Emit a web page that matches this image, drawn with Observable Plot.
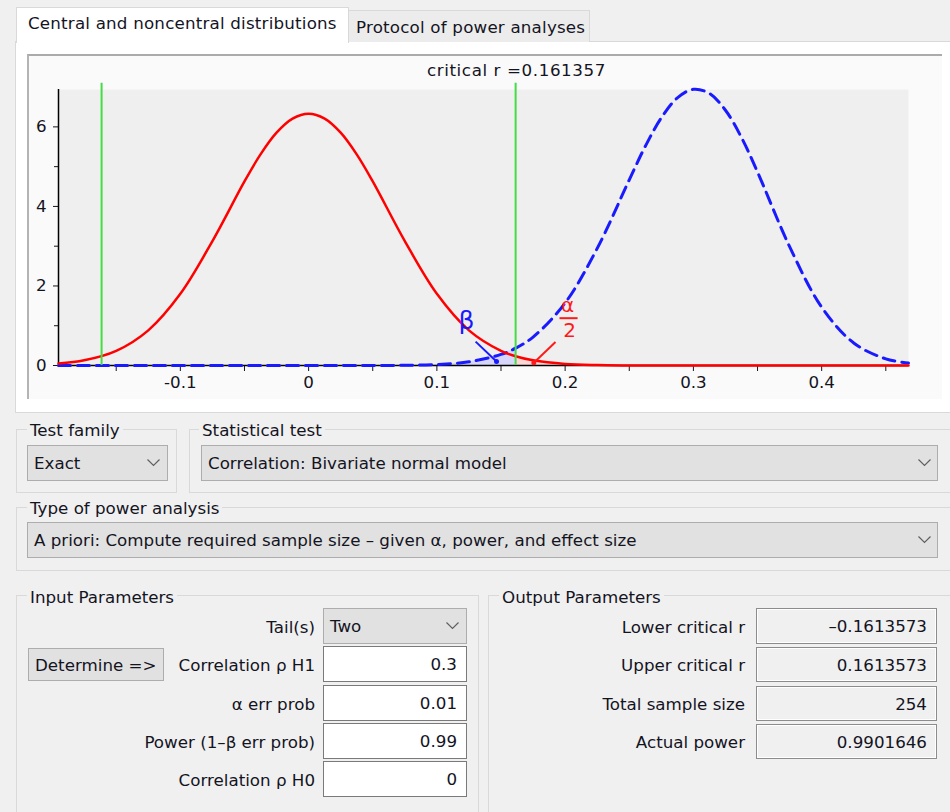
<!DOCTYPE html>
<html>
<head>
<meta charset="utf-8">
<script src="https://cdn.jsdelivr.net/npm/d3@7"></script>
<script src="https://cdn.jsdelivr.net/npm/@observablehq/plot@0.6"></script>
<style>
  html, body { margin: 0; padding: 0; }
  body { width: 950px; height: 812px; overflow: hidden; background: #f0f0f0; position: relative;
         font-family: "DejaVu Sans", sans-serif; font-size: 16.7px; color: #14141f; }
  .abs { position: absolute; box-sizing: border-box; }
  .group { position: absolute; box-sizing: border-box; border: 1px solid #d9d9d9; }
  .gtitle { position: absolute; background: #f0f0f0; padding: 0 3px; line-height: 20px; white-space: nowrap; }
  .combo { position: absolute; box-sizing: border-box; background: #e1e1e1; border: 1px solid #adadad;
           display: flex; align-items: center; padding-left: 6px; white-space: nowrap; }
  .combo svg { position: absolute; top: 50%; margin-top: -4px; }
  .field { position: absolute; box-sizing: border-box; background: #fff; border: 1px solid #7a7a7a;
           display: flex; align-items: center; justify-content: flex-end; padding-right: 9px; }
  .outf { position: absolute; box-sizing: border-box; background: #f0f0f0; border: 1px solid #8c8c8c;
          box-shadow: inset 0 0 0 1px #ffffff; display: flex; align-items: center; justify-content: flex-end; padding-right: 9px; }
  .lbl { position: absolute; text-align: right; white-space: nowrap; line-height: 20px; }
  .btn { position: absolute; box-sizing: border-box; background: #e1e1e1; border: 1px solid #adadad;
         display: flex; align-items: center; padding-left: 6px; white-space: nowrap; }
</style>
</head>
<body>
<!-- tab panel -->
<div class="abs" style="left:15px; top:41px; width:945px; height:372px; background:#ffffff; border:1px solid #d9d9d9;"></div>
<div class="abs" style="left:348px; top:10px; width:242px; height:32px; background:#ececec; border:1px solid #d9d9d9; border-bottom:none;"></div>
<div class="abs" style="left:16px; top:7px; width:333px; height:36px; background:#ffffff; border:1px solid #d9d9d9; border-bottom:none;"></div>
<div class="abs" style="left:28px; top:13px; line-height:20px; white-space:nowrap; letter-spacing:0.2px;">Central and noncentral distributions</div>
<div class="abs" style="left:356px; top:17px; line-height:20px; white-space:nowrap; letter-spacing:0.2px;">Protocol of power analyses</div>

<!-- inner chart frame -->
<div class="abs" style="left:27px; top:54px; width:915px; height:345px; background:#fafafa; border-top:2px solid #ababab; border-left:2px solid #b4b4b4;"></div>
<div id="chart" class="abs" style="left:27px; top:54px; width:915px; height:345px;"></div>
<div class="abs" style="left:427px; top:60px; line-height:20px; white-space:nowrap; letter-spacing:0.6px;">critical r =0.161357</div>

<!-- Test family -->
<div class="group" style="left:16px; top:429px; width:161px; height:64px;"></div>
<div class="gtitle" style="left:27px; top:420px;">Test family</div>
<div class="combo" style="left:27px; top:445px; width:141px; height:36px;">Exact
  <svg width="13" height="8" style="left:119px;"><polyline points="0.5,0.5 6.5,6.5 12.5,0.5" fill="none" stroke="#606060" stroke-width="1.2"/></svg></div>

<!-- Statistical test -->
<div class="group" style="left:189px; top:429px; width:775px; height:64px;"></div>
<div class="gtitle" style="left:199px; top:420px;">Statistical test</div>
<div class="combo" style="left:201px; top:445px; width:737px; height:36px;">Correlation: Bivariate normal model
  <svg width="13" height="8" style="left:716px;"><polyline points="0.5,0.5 6.5,6.5 12.5,0.5" fill="none" stroke="#606060" stroke-width="1.2"/></svg></div>

<!-- Type of power analysis -->
<div class="group" style="left:16px; top:507px; width:948px; height:64px;"></div>
<div class="gtitle" style="left:27px; top:498px;">Type of power analysis</div>
<div class="combo" style="left:27px; top:522px; width:911px; height:36px;">A priori: Compute required sample size – given α, power, and effect size
  <svg width="13" height="8" style="left:890px;"><polyline points="0.5,0.5 6.5,6.5 12.5,0.5" fill="none" stroke="#606060" stroke-width="1.2"/></svg></div>

<!-- Input Parameters -->
<div class="group" style="left:16px; top:595px; width:463px; height:240px;"></div>
<div class="gtitle" style="left:27px; top:587px;">Input Parameters</div>
<div class="lbl" style="right:635px; top:617px;">Tail(s)</div>
<div class="combo" style="left:323px; top:608px; width:144px; height:36px;">Two
  <svg width="13" height="8" style="left:122px;"><polyline points="0.5,0.5 6.5,6.5 12.5,0.5" fill="none" stroke="#606060" stroke-width="1.2"/></svg></div>
<div class="btn" style="left:28px; top:648px; width:136px; height:33px;">Determine =&gt;</div>
<div class="lbl" style="right:635px; top:655px;">Correlation ρ H1</div>
<div class="field" style="left:323px; top:646px; width:144px; height:36px;">0.3</div>
<div class="lbl" style="right:635px; top:694px;">α err prob</div>
<div class="field" style="left:323px; top:685px; width:144px; height:36px;">0.01</div>
<div class="lbl" style="right:635px; top:732px;">Power (1–β err prob)</div>
<div class="field" style="left:323px; top:723px; width:144px; height:36px;">0.99</div>
<div class="lbl" style="right:635px; top:770px;">Correlation ρ H0</div>
<div class="field" style="left:323px; top:761px; width:144px; height:36px;">0</div>

<!-- Output Parameters -->
<div class="group" style="left:488px; top:595px; width:476px; height:240px;"></div>
<div class="gtitle" style="left:499px; top:587px;">Output Parameters</div>
<div class="lbl" style="right:205px; top:617px;">Lower critical r</div>
<div class="outf" style="left:756px; top:608px; width:181px; height:36px;">–0.1613573</div>
<div class="lbl" style="right:205px; top:655px;">Upper critical r</div>
<div class="outf" style="left:756px; top:647px; width:181px; height:35px;">0.1613573</div>
<div class="lbl" style="right:205px; top:694px;">Total sample size</div>
<div class="outf" style="left:756px; top:686px; width:181px; height:35px;">254</div>
<div class="lbl" style="right:205px; top:732px;">Actual power</div>
<div class="outf" style="left:756px; top:724px; width:181px; height:35px;">0.9901646</div>

<script>
// ---- data ----
const rGrid = [-0.195, -0.175, -0.15, -0.125, -0.1, -0.075, -0.05, -0.0375, -0.025, -0.0125, 0, 0.0125,
               0.025, 0.0375, 0.05, 0.075, 0.1, 0.125, 0.15, 0.1614, 0.175, 0.2, 0.225, 0.25,
               0.2625, 0.275, 0.2875, 0.3, 0.3125, 0.325, 0.3375, 0.35, 0.375, 0.4, 0.425, 0.45, 0.4677];
// central distribution (H0, red solid)
const centralDensity = [0.05, 0.13, 0.368, 0.884, 1.802, 3.128, 4.629, 5.309, 5.854, 6.208, 6.33, 6.208,
                        5.854, 5.309, 4.629, 3.128, 1.802, 0.884, 0.368, 0.234, 0.13, 0.039, 0.01, 0.002,
                        0, 0, 0, 0, 0, 0, 0, 0, 0, 0, 0, 0, 0];
// noncentral distribution (H1, blue dashed)
const noncentralDensity = [0, 0, 0, 0, 0, 0, 0, 0, 0, 0, 0, 0,
                           0, 0, 0.001, 0.006, 0.026, 0.092, 0.278, 0.436, 0.715, 1.574, 2.945, 4.669,
                           5.513, 6.229, 6.73, 6.946, 6.839, 6.418, 5.731, 4.865, 2.989, 1.468, 0.566, 0.168, 0.06];
const criticalR = [-0.1614, 0.1614];
const xTicks = [-0.1, 0, 0.1, 0.2, 0.3, 0.4];
const xMinorTicks = [-0.15, -0.05, 0.05, 0.15, 0.25, 0.35, 0.45];
const yTicks = [0, 2, 4, 6];
const yMinorTicks = [1, 3, 5];
const xDomain = [-0.195, 0.4677];
const yDomain = [0, 6.94];
// annotation labels (β and α/2) in data units
const annotationTexts = ["β", "α", "2"];
const annotationX = [0.1231, 0.2019, 0.2034];
const annotationY = [1.11, 1.50, 0.87];
const annotationColors = ["#1a1aff", "#ff1a1a", "#ff1a1a"];
const annotationSizes = [25, 20, 20];
// pointer lines (β, α/2, fraction bar) in data units
const pointerX1 = [0.1302, 0.1925, 0.1956];
const pointerY1 = [0.60, 0.59, 1.19];
const pointerX2 = [0.1465, 0.1756, 0.2097];
const pointerY2 = [0.10, 0.07, 1.19];
const pointerColors = ["#1a1aff", "#ff1a1a", "#ff1a1a"];
const pointerDots = [true, true, false];

const rows = rGrid.map((r, i) => ({r, central: centralDensity[i], noncentral: noncentralDensity[i]}));
const labels = annotationTexts.map((t, i) => ({t, x: annotationX[i], y: annotationY[i], c: annotationColors[i], s: annotationSizes[i]}));
const pointers = pointerX1.map((x1, i) => ({x1, y1: pointerY1[i], x2: pointerX2[i], y2: pointerY2[i], c: pointerColors[i], dot: pointerDots[i]}));
const fmt = d => String(d);

const chart = Plot.plot({
  width: 915,
  height: 345,
  marginLeft: 31,
  marginRight: 34,
  marginTop: 35,
  marginBottom: 34,
  style: {fontFamily: "DejaVu Sans, sans-serif", fontSize: "16.7px", color: "#14141f", background: "transparent"},
  x: {domain: xDomain, axis: null},
  y: {domain: yDomain, axis: null},
  marks: [
    Plot.frame({fill: "#efefef", stroke: "none"}),
    Plot.areaY(rows.filter(d => d.r <= 0.1614), {x: "r", y: "noncentral", curve: "catmull-rom", fill: "#d6d6fb"}),
    Plot.areaY(rows.filter(d => d.r >= 0.1614), {x: "r", y: "central", curve: "catmull-rom", fill: "#ffd6d6"}),
    Plot.axisX(xTicks, {tickSize: 6, tickPadding: 5, tickFormat: fmt, label: null, fontSize: 16.7}),
    Plot.axisX(xMinorTicks, {tickSize: 6, tickFormat: () => "", label: null}),
    Plot.axisY(yTicks, {tickSize: 5, tickPadding: 7, tickFormat: fmt, label: null, fontSize: 16.7}),
    Plot.axisY(yMinorTicks, {tickSize: 4, tickFormat: () => "", label: null}),
    Plot.ruleX([xDomain[0]], {y1: 0, y2: yDomain[1], stroke: "#000", strokeWidth: 1.5}),
    Plot.ruleY([0], {stroke: "#000", strokeWidth: 1.5}),
    Plot.line(rows, {x: "r", y: "noncentral", curve: "catmull-rom", stroke: "#1a1aff", strokeWidth: 3, strokeDasharray: "12,7"}),
    Plot.line(rows, {x: "r", y: "central", curve: "catmull-rom", stroke: "#ff0000", strokeWidth: 2.5}),
    Plot.ruleX(criticalR, {y1: 0, y2: 7.1, stroke: "#44dd44", strokeWidth: 2}),
    Plot.link(pointers, {x1: "x1", y1: "y1", x2: "x2", y2: "y2", stroke: "c", strokeWidth: 2}),
    Plot.dot(pointers.filter(d => d.dot), {x: "x2", y: "y2", r: 2.5, fill: "c", stroke: "none"}),
    Plot.text(labels, {x: "x", y: "y", text: "t", fill: "c", fontSize: "s", fontFamily: "DejaVu Sans, sans-serif"})
  ]
});
document.getElementById("chart").appendChild(chart);
</script>
</body>
</html>
